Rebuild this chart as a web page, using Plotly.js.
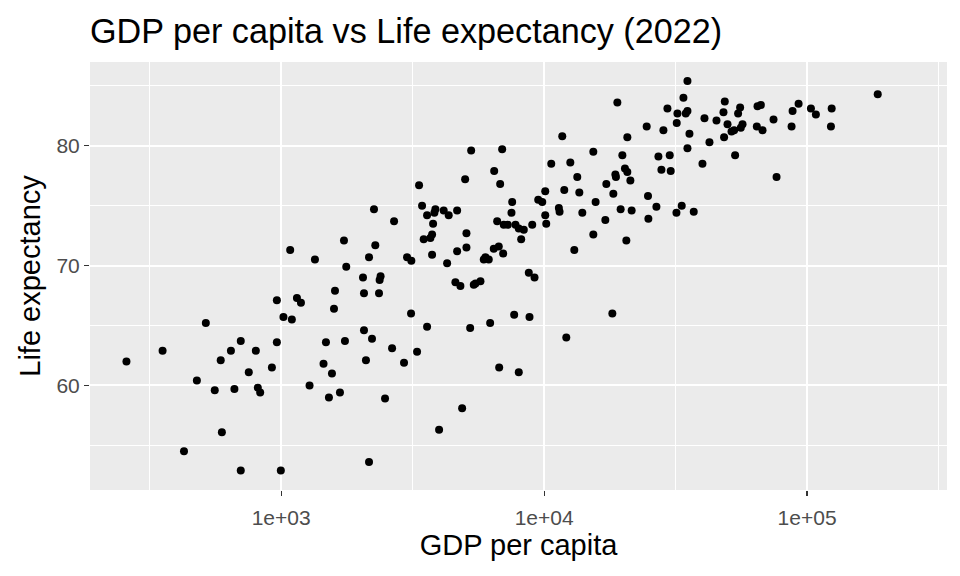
<!DOCTYPE html>
<html>
<head>
<meta charset="utf-8">
<script src="https://cdn.plot.ly/plotly-3.0.1.min.js"></script>
<style>html,body{margin:0;padding:0;background:#fff;}#chart{width:960px;height:576px;}</style>
</head>
<body>
<div id="chart"></div>
<script>
const gdpPerCapita = [258,354,427,478,517,559,589,595,644,664,
702,702,753,801,815,832,922,963,963,997,
1020,1082,1098,1148,1189,1282,1344,1449,1480,1519,
1560,1588,1602,1673,1733,1748,1768,2047,2065,2065,
2101,2158,2158,2215,2254,2280,2355,2388,2368,2483,
2641,2687,2932,3011,3126,3118,3287,3345,3434,3588,
3588,3483,3693,3749,3749,3782,3859,3825,3986,4150,
4336,4276,4598,4804,4668,4668,4877,5007,5065,5065,
5232,5278,5400,5481,5726,5894,5982,6157,6233,6433,
6457,6628,6722,6745,6804,6924,6985,7022,7273,7558,
7513,7692,7781,8008,8008,8179,8368,8743,8798,9010,
9193,9496,9835,10097,10097,10186,10642,11376,11446,11720,
11928,12141,12575,13022,13366,13606,13969,15382,15382,15694,
17089,17240,18170,18330,18658,18750,18985,19540,19834,20291,
20720,21277,20540,20720,21517,24547,24826,24911,26726,27199,
27922,28416,29434,30031,30295,31850,31930,32128,33357,33860,
34553,35075,35075,35075,35694,37059,40000,40710,42530,45220,
48080,48640,49810,51590,48340,52780,55970,56810,53240,55620,
54650,64780,66690,64390,67680,74530,76520,88060,92820,87290,
103400,108000,124000,123200,185600];

const lifeExpectancy = [62.0,62.9,54.5,60.4,65.2,59.6,62.1,56.1,62.9,59.7,
63.7,52.9,61.1,62.9,59.8,59.4,61.5,67.1,63.6,52.9,
65.7,71.3,65.5,67.3,66.9,60.0,70.5,61.8,63.6,59.0,
61.0,66.4,67.9,59.4,72.1,63.7,69.9,69.0,67.7,64.6,
62.1,70.7,53.6,63.9,74.7,71.7,67.7,69.1,68.8,58.9,
63.1,73.7,61.9,70.7,70.4,66.0,62.8,76.7,75.0,74.2,
64.9,72.2,72.3,72.6,70.9,73.5,74.7,74.4,56.3,74.6,
74.2,70.2,68.6,68.3,74.6,71.2,58.1,77.2,72.7,71.5,
64.8,79.6,68.4,68.5,68.7,70.5,70.7,70.5,65.2,71.4,
77.9,73.7,71.6,61.5,76.8,79.7,71.0,73.4,73.4,75.3,
74.4,65.9,73.4,73.1,61.1,72.2,73.0,69.4,65.7,73.4,
69.0,75.5,75.3,76.2,74.2,73.5,78.5,74.8,74.5,80.8,
76.3,64.0,78.6,71.3,77.4,76.1,74.4,79.5,72.6,75.3,
73.8,76.8,66.0,76.0,77.6,77.4,83.6,74.7,79.2,78.1,
77.8,77.1,72.1,80.7,74.6,81.6,75.8,73.9,74.9,79.1,
78.0,81.3,83.1,79.2,77.9,74.4,81.9,82.7,75.0,84.0,
82.7,82.9,85.4,79.8,81.0,74.5,78.5,82.3,80.3,82.1,
82.8,83.7,81.8,81.2,80.7,81.3,81.5,81.8,79.2,83.2,
82.7,83.3,83.4,81.6,81.3,82.2,77.4,82.9,83.5,81.6,
83.1,82.6,83.1,81.6,84.3];

const xTickVals = [1000, 10000, 100000];
const xTickText = ["1e+03", "1e+04", "1e+05"];
const xMinorVals = [316.23, 3162.3, 31623, 316228];
const yTickVals = [60, 70, 80];
const yMinorVals = [55, 65, 75, 85];

const FONT = "Liberation Sans, Arial, sans-serif";

const trace = {
  type: "scatter",
  mode: "markers",
  x: gdpPerCapita,
  y: lifeExpectancy,
  marker: { color: "#000000", size: 8, line: { width: 0 } },
  hoverinfo: "x+y"
};

const layout = {
  width: 960,
  height: 576,
  paper_bgcolor: "#FFFFFF",
  plot_bgcolor: "#EBEBEB",
  margin: { l: 90, r: 13, t: 62, b: 86, pad: 0 },
  showlegend: false,
  font: { family: FONT, color: "#000000" },
  title: {
    text: "GDP per capita vs Life expectancy (2022)",
    font: { family: FONT, size: 34.2, color: "#000000" },
    x: 90 / 960, xref: "container", xanchor: "left",
    y: 1 - 31 / 576, yref: "container", yanchor: "middle"
  },
  xaxis: {
    type: "log",
    range: [2.273, 5.532],
    tickmode: "array",
    tickvals: xTickVals,
    ticktext: xTickText,
    ticks: "outside",
    ticklen: 5,
    tickwidth: 1.2,
    tickcolor: "#333333",
    ticklabelstandoff: 4,
    tickfont: { family: FONT, size: 21, color: "#4D4D4D" },
    showgrid: true,
    gridcolor: "#FFFFFF",
    gridwidth: 2,
    minor: { tickmode: "array", tickvals: xMinorVals, showgrid: true, gridcolor: "#FFFFFF", gridwidth: 1, ticks: "" },
    zeroline: false,
    showline: false,
    title: { text: "GDP per capita", font: { family: FONT, size: 29, color: "#000000" }, standoff: 3 }
  },
  yaxis: {
    range: [51.27, 86.99],
    tickmode: "array",
    tickvals: yTickVals,
    ticktext: yTickVals.map(String),
    ticks: "outside",
    ticklen: 5,
    tickwidth: 1.2,
    tickcolor: "#333333",
    tickfont: { family: FONT, size: 21, color: "#4D4D4D" },
    showgrid: true,
    gridcolor: "#FFFFFF",
    gridwidth: 2,
    minor: { tickmode: "array", tickvals: yMinorVals, showgrid: true, gridcolor: "#FFFFFF", gridwidth: 1, ticks: "" },
    zeroline: false,
    showline: false,
    title: { text: "Life expectancy", font: { family: FONT, size: 29, color: "#000000" }, standoff: 7 }
  }
};

Plotly.newPlot("chart", [trace], layout, { displayModeBar: false, staticPlot: true });
</script>
</body>
</html>
